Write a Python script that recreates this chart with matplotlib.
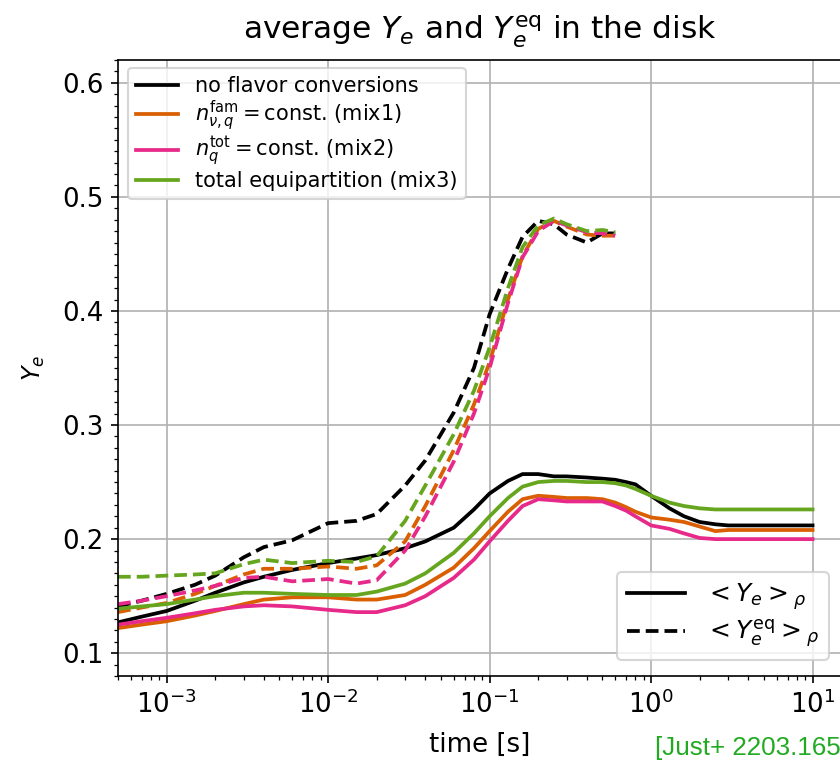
import matplotlib
matplotlib.use("Agg")
import matplotlib.pyplot as plt
from matplotlib.lines import Line2D
from matplotlib.ticker import MultipleLocator

# time grid [s]; dashed (Y_e^eq) curves stop at 0.6 s
t_solid = [5e-4, 7e-4, 1e-3, 1.5e-3, 2e-3, 3e-3, 4e-3, 6e-3, 1e-2, 1.5e-2,
           2e-2, 3e-2, 4e-2, 6e-2, 0.08, 0.1, 0.13, 0.16, 0.2, 0.25,
           0.3, 0.4, 0.5, 0.6, 0.7, 0.8, 1.0, 1.3, 1.6, 2.0,
           2.5, 3.0, 5.0, 10.0]
t_dash = t_solid[:24]

# <Y_e>_rho
ye_noconv = [0.127, 0.132, 0.137, 0.146, 0.153, 0.162, 0.167, 0.173, 0.179, 0.183,
             0.186, 0.192, 0.198, 0.210, 0.226, 0.240, 0.251, 0.257, 0.257, 0.255,
             0.255, 0.254, 0.253, 0.252, 0.250, 0.248, 0.238, 0.227, 0.220, 0.215,
             0.213, 0.212, 0.212, 0.212]
ye_mix1 = [0.122, 0.125, 0.128, 0.133, 0.137, 0.143, 0.147, 0.149, 0.149, 0.147,
           0.147, 0.151, 0.160, 0.175, 0.192, 0.207, 0.224, 0.235, 0.238, 0.237,
           0.236, 0.236, 0.235, 0.232, 0.228, 0.224, 0.219, 0.217, 0.215, 0.211,
           0.207, 0.208, 0.208, 0.208]
ye_mix2 = [0.125, 0.128, 0.131, 0.135, 0.138, 0.141, 0.142, 0.141, 0.138, 0.136,
           0.136, 0.142, 0.150, 0.166, 0.182, 0.198, 0.216, 0.229, 0.235, 0.234,
           0.233, 0.233, 0.233, 0.229, 0.225, 0.220, 0.212, 0.209, 0.205, 0.201,
           0.200, 0.200, 0.200, 0.200]
ye_mix3 = [0.139, 0.141, 0.143, 0.147, 0.150, 0.153, 0.153, 0.152, 0.151, 0.151,
           0.154, 0.161, 0.170, 0.188, 0.205, 0.220, 0.236, 0.246, 0.250, 0.251,
           0.251, 0.250, 0.250, 0.249, 0.247, 0.244, 0.238, 0.232, 0.229, 0.227,
           0.226, 0.226, 0.226, 0.226]

# <Y_e^eq>_rho
yeq_noconv = [0.141, 0.146, 0.152, 0.160, 0.168, 0.184, 0.193, 0.199, 0.214, 0.216,
              0.222, 0.247, 0.269, 0.311, 0.350, 0.397, 0.437, 0.465, 0.479, 0.476,
              0.467, 0.460, 0.468, 0.468]
yeq_mix1 = [0.136, 0.140, 0.144, 0.152, 0.159, 0.169, 0.174, 0.174, 0.176, 0.174,
            0.177, 0.198, 0.229, 0.278, 0.318, 0.355, 0.410, 0.448, 0.472, 0.479,
            0.474, 0.467, 0.466, 0.466]
yeq_mix2 = [0.143, 0.146, 0.150, 0.155, 0.159, 0.166, 0.167, 0.163, 0.165, 0.161,
            0.164, 0.190, 0.220, 0.268, 0.310, 0.350, 0.407, 0.447, 0.470, 0.479,
            0.475, 0.469, 0.468, 0.466]
yeq_mix3 = [0.167, 0.167, 0.168, 0.169, 0.170, 0.178, 0.182, 0.179, 0.181, 0.180,
            0.185, 0.216, 0.247, 0.292, 0.330, 0.368, 0.420, 0.456, 0.475, 0.481,
            0.476, 0.470, 0.471, 0.469]

labels = ['no flavor conversions',
          r'$n_{\nu,q}^{\rm fam}=$const. (mix1)',
          r'$n_q^{\rm tot}=$const. (mix2)',
          'total equipartition (mix3)']
colors = ['black', '#d95f02', '#e7298a', '#66a61e']
ye_all = [ye_noconv, ye_mix1, ye_mix2, ye_mix3]
yeq_all = [yeq_noconv, yeq_mix1, yeq_mix2, yeq_mix3]

W, H = 840, 761
fig = plt.figure(figsize=(W / 150, H / 150), dpi=150)
ax = fig.add_axes([118 / W, 1 - 676 / H, 723 / W, 616 / H])

lw = 1.8
dash = (0, (3.4, 1.6))
for ye, yeq, c in zip(ye_all, yeq_all, colors):
    ax.plot(t_solid, ye, color=c, lw=lw)
    ax.plot(t_dash, yeq, color=c, lw=lw, ls=dash)

ax.set_xscale('log')
ax.set_xlim(5e-4, 15)
ax.set_ylim(0.08, 0.62)
ax.yaxis.set_major_locator(MultipleLocator(0.1))
ax.yaxis.set_minor_locator(MultipleLocator(0.01))
ax.grid(True, which='major', color='#b0b0b0', lw=0.8)
ax.tick_params(labelsize=12.5)
ax.set_xlabel('time [s]', fontsize=12.5, labelpad=6)
ax.set_ylabel(r'$Y_e$', fontsize=11.5, labelpad=7)
ax.set_title(r'average $Y_e$ and $Y_e^{\rm eq}$ in the disk', fontsize=15, pad=10)

h1 = [Line2D([], [], color=c, lw=lw) for c in colors]
leg1 = ax.legend(h1, labels, loc='upper left', fontsize=10, labelspacing=0.1,
                 bbox_to_anchor=(128 / W, 1 - 68 / H), bbox_transform=fig.transFigure,
                 borderaxespad=0)
ax.add_artist(leg1)

h2 = [Line2D([], [], color='black', lw=lw),
      Line2D([], [], color='black', lw=lw, ls=dash)]
ax.legend(h2, [r'$<Y_e>_\rho$', r'$<Y_e^{\rm eq}>_\rho$'],
          loc='lower right', fontsize=12, handlelength=2.3, labelspacing=0.2,
          bbox_to_anchor=(829 / W, 1 - 660 / H), bbox_transform=fig.transFigure,
          borderaxespad=0)

fig.text(655 / W, 1 - 755 / H, '[Just+ 2203.165', color='#22aa22',
         fontsize=12.5, family=['Liberation Sans Narrow', 'Liberation Sans'],
         va='baseline')

fig.savefig('out.png', dpi=150)
